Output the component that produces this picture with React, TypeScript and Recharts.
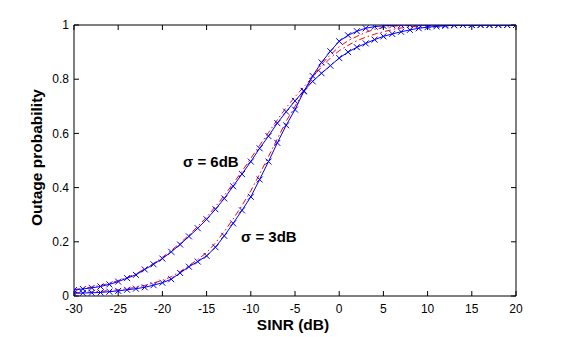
import React from 'react';
import { LineChart, Line, XAxis, YAxis } from 'recharts';

const sinrDb = [-30,-29,-28,-27,-26,-25,-24,-23,-22,-21,-20,-19,-18,-17,-16,-15,-14,-13,-12,-11,-10,-9,-8,-7,-6,-5,-4,-3,-2,-1,0,1,2,3,4,5,6,7,8,9,10,11,12,13,14,15,16,17,18,19,20];

// simulation, sigma = 6 dB (blue, x markers)
const sim6 = [0.022,0.026,0.030,0.035,0.043,0.053,0.066,0.078,0.098,0.117,0.138,0.163,0.190,0.220,0.250,0.283,0.320,0.360,0.405,0.450,0.496,0.545,0.590,0.638,0.680,0.720,0.757,0.792,0.822,0.850,0.878,0.900,0.918,0.932,0.946,0.958,0.967,0.975,0.982,0.988,0.992,0.995,0.997,0.999,1,1,1,1,1,1,1];
// simulation, sigma = 3 dB (blue, x markers)
const sim3 = [0.010,0.011,0.012,0.013,0.016,0.019,0.023,0.027,0.032,0.040,0.049,0.062,0.085,0.108,0.127,0.148,0.180,0.222,0.268,0.316,0.366,0.430,0.496,0.565,0.630,0.688,0.755,0.812,0.862,0.903,0.940,0.962,0.977,0.988,0.994,0.997,0.999,1,1,1,1,1,1,1,1,1,1,1,1,1,1];
// analysis, sigma = 6 dB (red dash-dot)
const ana6 = [0.024,0.028,0.033,0.039,0.047,0.057,0.068,0.082,0.100,0.120,0.143,0.168,0.195,0.225,0.257,0.291,0.330,0.371,0.415,0.460,0.508,0.556,0.603,0.650,0.695,0.735,0.772,0.808,0.845,0.878,0.905,0.925,0.942,0.955,0.966,0.975,0.983,0.989,0.993,0.996,0.998,0.999,1,1,1,1,1,1,1,1,1];
// analysis, sigma = 3 dB (red dash-dot)
const ana3 = [0.012,0.013,0.015,0.017,0.020,0.023,0.027,0.032,0.039,0.048,0.058,0.071,0.090,0.112,0.135,0.160,0.196,0.238,0.284,0.334,0.388,0.450,0.515,0.580,0.645,0.700,0.755,0.805,0.855,0.890,0.920,0.942,0.958,0.973,0.984,0.991,0.995,0.998,0.999,1,1,1,1,1,1,1,1,1,1,1,1];

const xTicks = [-30,-25,-20,-15,-10,-5,0,5,10,15,20];
const yTicks = [0,0.2,0.4,0.6,0.8,1];

const data = sinrDb.map((x, i) => ({ x, sim6: sim6[i], sim3: sim3[i], ana6: ana6[i], ana3: ana3[i] }));

const FONT = '"Liberation Sans", Arial, sans-serif';

const XMark = (props: any) => {
  const { cx, cy, index } = props;
  if (cx == null || cy == null) return <g key={index} />;
  const s = 3;
  return (
    <path
      key={index}
      d={`M${cx - s},${cy - s}L${cx + s},${cy + s}M${cx - s},${cy + s}L${cx + s},${cy - s}`}
      stroke="#0000ff"
      strokeWidth={1}
      fill="none"
    />
  );
};

const tickStyle = { fill: '#000', fontSize: 12, fontFamily: FONT };

export default function App() {
  return (
    <div style={{ position: 'absolute', left: 0, top: 0, width: 569, height: 337, background: '#fff' }}>
      <LineChart width={569} height={337} data={data} margin={{ top: 0, right: 0, left: 0, bottom: 0 }}>
        <XAxis
          xAxisId="b"
          dataKey="x"
          type="number"
          domain={[-30, 20]}
          ticks={xTicks}
          interval={0}
          orientation="bottom"
          height={41}
          tickSize={-5}
          tickMargin={13}
          tick={tickStyle}
          axisLine={{ stroke: '#000' }}
          tickLine={{ stroke: '#000' }}
          allowDataOverflow
          tickFormatter={(v: number) => String(v)}
        />
        <XAxis
          xAxisId="t"
          dataKey="x"
          type="number"
          domain={[-30, 20]}
          ticks={xTicks}
          interval={0}
          orientation="top"
          height={25}
          tickSize={-5}
          tickMargin={5}
          tick={tickStyle}
          tickFormatter={() => ''}
          axisLine={{ stroke: '#000' }}
          tickLine={{ stroke: '#000' }}
          allowDataOverflow
        />
        <YAxis
          yAxisId="l"
          type="number"
          domain={[0, 1]}
          ticks={yTicks}
          interval={0}
          orientation="left"
          width={74}
          tickSize={-5}
          tickMargin={10}
          tick={tickStyle}
          axisLine={{ stroke: '#000' }}
          tickLine={{ stroke: '#000' }}
          allowDataOverflow
          tickFormatter={(v: number) => String(v)}
        />
        <YAxis
          yAxisId="r"
          type="number"
          domain={[0, 1]}
          ticks={yTicks}
          interval={0}
          orientation="right"
          width={53}
          tickSize={-5}
          tickMargin={5}
          tick={tickStyle}
          tickFormatter={() => ''}
          axisLine={{ stroke: '#000' }}
          tickLine={{ stroke: '#000' }}
          allowDataOverflow
        />
        <Line xAxisId="b" yAxisId="l" type="linear" dataKey="ana6" stroke="#ff0000" strokeWidth={1} strokeDasharray="6 3 1.5 3" dot={false} isAnimationActive={false} />
        <Line xAxisId="b" yAxisId="l" type="linear" dataKey="ana3" stroke="#ff0000" strokeWidth={1} strokeDasharray="6 3 1.5 3" dot={false} isAnimationActive={false} />
        <Line xAxisId="b" yAxisId="l" type="linear" dataKey="sim6" stroke="#0000ff" strokeWidth={1} dot={<XMark />} isAnimationActive={false} />
        <Line xAxisId="b" yAxisId="l" type="linear" dataKey="sim3" stroke="#0000ff" strokeWidth={1} dot={<XMark />} isAnimationActive={false} />
      </LineChart>
      <svg width={569} height={337} style={{ position: 'absolute', left: 0, top: 0, pointerEvents: 'none' }}>
        <text x={183} y={167} fontFamily={FONT} fontWeight="bold" fontSize={15} fill="#000">σ = 6dB</text>
        <text x={241} y={242} fontFamily={FONT} fontWeight="bold" fontSize={15} fill="#000">σ = 3dB</text>
        <text x={293} y={330} textAnchor="middle" fontFamily={FONT} fontWeight="bold" fontSize={15.5} fill="#000">SINR (dB)</text>
        <text x={41.5} y={157.5} textAnchor="middle" transform="rotate(-90 41.5 157.5)" fontFamily={FONT} fontWeight="bold" fontSize={15.5} fill="#000">Outage probability</text>
      </svg>
    </div>
  );
}
